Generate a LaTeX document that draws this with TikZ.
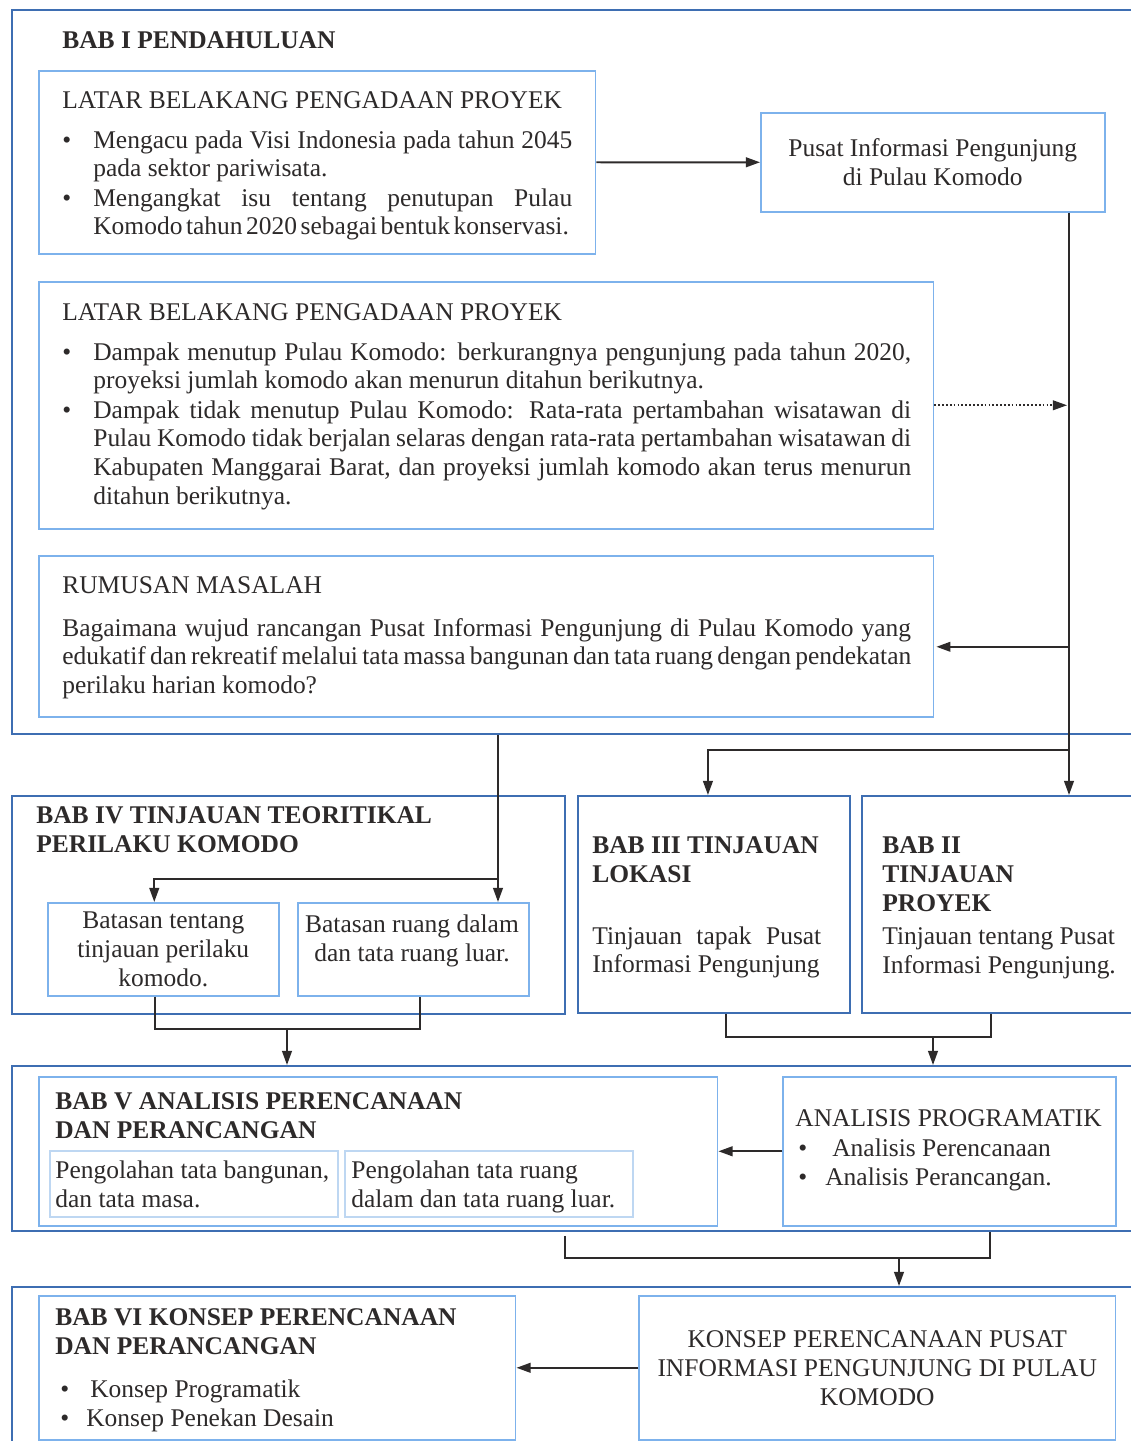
\documentclass[tikz,border=0pt]{standalone}
\usepackage{fontspec}
\setmainfont{Liberation Serif}
\usetikzlibrary{arrows.meta,calc}
\definecolor{biruTua}{RGB}{62,110,178}
\definecolor{biruMuda}{RGB}{125,178,236}
\definecolor{biruPucat}{RGB}{190,215,242}
\definecolor{garisAbu}{RGB}{45,42,42}
% butir: bullet, then a justified block
\newcommand{\butir}[3]{\makebox[#1][l]{\textbullet}\parbox[t]{#2}{\hyphenpenalty=10000 #3}}

\begin{document}
\begin{tikzpicture}[x=0.02cm, y=-0.02cm,
  every node/.style={font=\fontsize{14.5}{16.45}\selectfont, text=garisAbu},
  luar/.style={draw=biruTua, line width=1.1pt, inner sep=0pt, anchor=north west},
  dalam/.style={draw=biruMuda, line width=0.9pt, inner sep=0pt, anchor=north west},
  pucat/.style={draw=biruPucat, line width=0.9pt, inner sep=0pt, anchor=north west},
  teks/.style={anchor=base west, inner sep=0pt, align=left},
  judul/.style={teks, font=\fontsize{14.5}{16.45}\selectfont\bfseries},
  daftar/.style={anchor=base west, inner sep=0pt},
  paragraf/.style={anchor=base west, inner sep=0pt, text width=#1, align=justify},
  panah/.style={draw=garisAbu, line width=1.1pt, -{Triangle[length=8pt,width=5.5pt]}},
  garis/.style={draw=garisAbu, line width=1.1pt}]
\useasboundingbox (0,0) rectangle (1131,1441);
\fill[white] (0,0) rectangle (1131,1441);

% BAB I
\node[luar, minimum width=22.58cm, minimum height=14.48cm] (bab1luar) at (11,9) {};
\node[judul] (bab1judul) at (62,48) {BAB I PENDAHULUAN};
\node[dalam, minimum width=11.14cm, minimum height=3.66cm] (lb1) at (38,70) {};
\node[teks] (lb1judul) at (62,108) {LATAR BELAKANG PENGADAAN PROYEK};
\node[daftar] (lb1a) at (62,148)
  {\butir{0.62cm}{9.58cm}{Mengacu pada Visi Indonesia pada tahun 2045\linebreak pada sektor pariwisata.}};
\node[daftar] (lb1b) at (62,206)
  {\butir{0.62cm}{9.58cm}{\spaceskip=0.14em plus 0.4em\relax Mengangkat isu tentang penutupan Pulau\linebreak Komodo tahun 2020 sebagai bentuk konservasi.}};
\node[dalam, minimum width=6.88cm, minimum height=1.98cm, align=center] (pusat) at (760,112)
  {Pusat Informasi Pengunjung\\di Pulau Komodo};
\node[dalam, minimum width=17.9cm, minimum height=4.94cm] (lb2) at (38,281) {};
\node[teks] (lb2judul) at (62,320) {LATAR BELAKANG PENGADAAN PROYEK};
\node[daftar] (lb2a) at (62,360)
  {\butir{0.62cm}{16.36cm}{Dampak menutup Pulau Komodo: berkurangnya pengunjung pada tahun 2020,\linebreak proyeksi jumlah komodo akan menurun ditahun berikutnya.}};
\node[daftar] (lb2b) at (62,418)
  {\butir{0.62cm}{16.36cm}{Dampak tidak menutup Pulau Komodo: Rata-rata pertambahan wisatawan di\linebreak Pulau Komodo tidak berjalan selaras dengan rata-rata pertambahan wisatawan di\linebreak Kabupaten Manggarai Barat, dan proyeksi jumlah komodo akan terus menurun\linebreak ditahun berikutnya.}};
\node[dalam, minimum width=17.9cm, minimum height=3.22cm] (rumusan) at (38,555) {};
\node[teks] (rumusanjudul) at (62,593) {RUMUSAN MASALAH};
\node[paragraf=16.98cm] (rumusanisi) at (62,636)
  {Bagaimana wujud rancangan Pusat Informasi Pengunjung di Pulau Komodo yang\linebreak edukatif dan rekreatif melalui tata massa bangunan dan tata ruang dengan pendekatan\linebreak perilaku harian komodo?};

% BAB IV, III, II
\node[luar, minimum width=11.06cm, minimum height=4.36cm] (bab4) at (11,795) {};
\node[judul] (bab4judul) at (36,852) {BAB IV TINJAUAN TEORITIKAL\\PERILAKU KOMODO};
\node[dalam, minimum width=4.62cm, minimum height=1.86cm, align=center] (batas1) at (47,902)
  {Batasan tentang\\tinjauan perilaku\\komodo.};
\node[dalam, minimum width=4.62cm, minimum height=1.86cm] (batas2) at (297,902) {};
\node[teks, anchor=base, align=center] (batas2isi) at (412,961) {Batasan ruang dalam\\dan tata ruang luar.};
\node[luar, minimum width=5.44cm, minimum height=4.34cm] (bab3) at (577,795) {};
\node[judul] (bab3judul) at (592,882) {BAB III TINJAUAN\\LOKASI};
\node[paragraf=4.58cm] (bab3isi) at (592,944) {Tinjauan tapak Pusat\linebreak Informasi Pengunjung};
\node[luar, minimum width=5.58cm, minimum height=4.34cm] (bab2) at (861,795) {};
\node[judul] (bab2judul) at (882,911) {BAB II\\TINJAUAN\\PROYEK};
\node[teks] (bab2isi) at (882,973) {Tinjauan tentang Pusat\\Informasi Pengunjung.};

% BAB V
\node[luar, minimum width=22.58cm, minimum height=3.3cm] (bab5luar) at (11,1065) {};
\node[dalam, minimum width=13.58cm, minimum height=2.98cm] (bab5) at (38,1076) {};
\node[judul] (bab5judul) at (55,1138) {BAB V ANALISIS PERENCANAAN\\DAN PERANCANGAN};
\node[pucat, minimum width=5.76cm, minimum height=1.32cm] (olah1) at (49,1150) {};
\node[pucat, minimum width=5.76cm, minimum height=1.32cm] (olah2) at (344,1150) {};
\node[teks] (olah1isi) at (55,1207) {Pengolahan tata bangunan,\\dan tata masa.};
\node[teks] (olah2isi) at (351,1207) {Pengolahan tata ruang\\dalam dan tata ruang luar.};
\node[dalam, minimum width=6.66cm, minimum height=2.98cm] (analisis) at (782,1076) {};
\node[teks] (analisisjudul) at (795,1126) {ANALISIS PROGRAMATIK};
\node[daftar] (analisisa) at (798,1156) {\butir{0.68cm}{5.5cm}{Analisis Perencanaan}};
\node[daftar] (analisisb) at (798,1185) {\butir{0.54cm}{5.5cm}{Analisis Perancangan.}};

% BAB VI
\node[luar, minimum width=22.58cm, minimum height=3.48cm] (bab6luar) at (11,1286) {};
\node[dalam, minimum width=9.54cm, minimum height=2.88cm] (bab6) at (38,1295) {};
\node[judul] (bab6judul) at (55,1354) {BAB VI KONSEP PERENCANAAN\\DAN PERANCANGAN};
\node[daftar] (bab6a) at (60,1397) {\butir{0.6cm}{7cm}{Konsep Programatik}};
\node[daftar] (bab6b) at (60,1426) {\butir{0.52cm}{7cm}{Konsep Penekan Desain}};
\node[dalam, minimum width=9.54cm, minimum height=2.88cm, align=center] (konsep) at (638,1295)
  {KONSEP PERENCANAAN PUSAT\\INFORMASI PENGUNJUNG DI PULAU\\KOMODO};

% connectors
\coordinate (kanan) at (1069,0);
\coordinate (cabang) at (1069,750);
\coordinate (turun) at (498,0);
\coordinate (simpang) at (498,879);
\coordinate (gab1) at (287,1029);
\coordinate (gab2) at (933,1037);
\coordinate (gab3) at (899,1258);
\coordinate (s3a) at (565,1258);
\coordinate (s3b) at (990,1258);
\draw[panah] (lb1) -- (pusat);
\draw[panah] (pusat.south -| kanan) -- (bab2.north -| kanan);
\draw[panah, line width=0.9pt, dash pattern=on 1pt off 1.2pt] (lb2.east) -- ($(lb2.east -| kanan)+(-2,0)$);
\draw[panah] ($(rumusan.east -| kanan)+(0,10.5)$) -- ($(rumusan.east)+(2,10.5)$);
\draw[panah] (cabang) -| ($(bab3.north)+(-6,0)$);
\draw[panah] (bab1luar.south -| turun) -- (batas2.north -| turun);
\draw[panah] (simpang) -| ($(batas1.north)+(-9,0)$);
\draw[garis] ($(batas1.south)+(-8,0)$) |- (gab1) -| ($(batas2.south)+(7,0)$);
\draw[panah] (gab1) -- (gab1 |- bab5luar.north);
\draw[garis] ($(bab3.south)+(12,0)$) |- (gab2) -| ($(bab2.south)+(-10.5,0)$);
\draw[panah] (gab2) -- (gab2 |- bab5luar.north);
\draw[panah] (analisis.west) -- (bab5.east);
\draw[garis] ($(s3a |- bab5luar.south)+(0,4)$) -- (s3a) -- (s3b) -- (s3b |- bab5luar.south);
\draw[panah] (gab3) -- (gab3 |- bab6luar.north);
\draw[panah] (konsep.west) -- (bab6.east);
\end{tikzpicture}
\end{document}
